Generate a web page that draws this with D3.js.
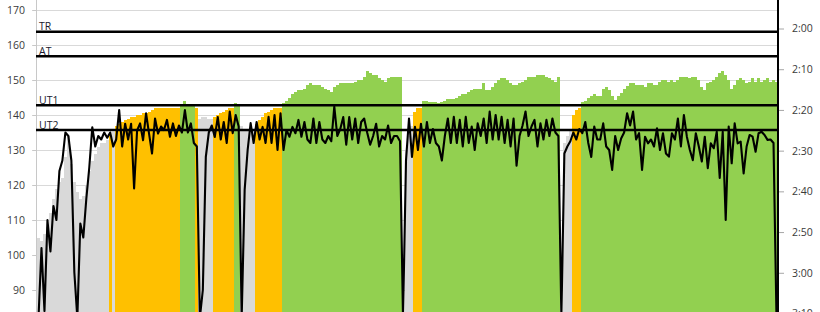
<!DOCTYPE html>
<html><head><meta charset="utf-8">
<script src="https://cdn.jsdelivr.net/npm/d3@7"></script>
<style>
html,body{margin:0;padding:0;background:#fff;overflow:hidden}
text{font-family:"Open Sans","Liberation Sans",sans-serif;}
</style></head>
<body><svg id="c" width="820" height="312"></svg>
<script>
// ---- data ----
const zoneRuns = [["rest",24],["UT2",1],["rest",1],["UT2",22],["UT1",5],["UT2",1],["rest",5],["UT2",7],["UT1",2],["rest",5],["UT2",9],["UT1",40],[null,1],["rest",3],["UT2",3],["UT1",46],[null,1],["rest",3],["UT2",3],["UT1",66]];

const areaValues = [
105,104,106,108,112,116,119,121,122,128,134,126,121,118,116,117,120,124,127,129,131,132,132,133,
134,
135,
137,137.5,138,138.5,139,139.5,139.5,140,140,140.5,140.5,141,141.5,142,142,142,142,142,142,142,142,142,
142.5,144,142.5,142.5,142.5,
142,
139,139.5,139.5,139,139,
139.5,140,140.5,141,141.5,142,142,
143.5,142.5,
137,136,135.5,135.5,136,
137.5,138.5,139.5,140.5,141,141.5,142,142,142,
143.4,144,145,146,146.5,147,147,147.5,148.5,149,148.5,148.5,148.5,148,147.5,147,146.5,148,148.5,149,149,149,149,149,149.5,150,150,151,152.5,152,151.5,151.5,150.5,150,149.5,150.5,151,151,151,151,
0,
130,134,137,
141,142,142,
144,144,143.8,143.8,143.8,143.5,143.8,144,144.5,144.5,144.5,145,145.5,146,146,146.5,147,147.5,147.5,147.5,149,147,147,148,149,150,150.5,150.5,150,149,148.6,148.6,149,149.5,150,151,151,151,151.4,151.4,151.4,151,150.5,150,149.5,151,
0,
132,134,136,
140,141.5,142,
143.8,144,145,145.5,146,145.5,145.5,147.5,148,147,145.5,144.3,145.5,146.3,147.5,148.2,149,149,148.6,148.6,148.6,148,149,149,148.6,148.6,149.5,150,150,149.5,150,149.5,150,151,151,151,150.5,151,151,150,148,147,149,149.5,150,151,152,152.5,151.5,150,147.5,148.5,150,150.5,150,149,149.5,150.5,149.5,150.5,149.5,150,150.5,149.5,150,149.5
];

const heartRate = [
82,102,84,110,101,114,110,124,127,135,
134,127,95,82,109,105,116,125,136.5,131,
134,133,135,133.5,135,131,133,141.4,131,137.5,
133,137.5,119,135.6,137.6,132.8,140.5,134.7,129,139,
134.7,136.7,135.7,138.6,133.8,137.6,134,137,135,141.4,
135,137.6,132,131,82,90,128,135,137,133.7,
139.4,133,138,132,141,134.8,140,136.7,82,118.6,
130,137.7,132,138,133,136.6,132,139.5,132,140,
130,140.5,130,135.7,133.8,136.6,134.8,138.6,133.8,138,
133,132,139,132,138,133,132,134,132.5,142.4,
134,136,139.4,131.5,139.4,133,139,132,138,139,
135,131.5,134,137.5,131,134,133,137,132,134,
134,132.5,82,127,139,128,136.6,130,137.5,131,
138,132,136,132,131,127,134,139,132,139.5,
132,138.6,131,139.5,132,136.7,130,137.6,134,139,
132,141,133,140,133,139.5,132,138.6,131,139,
125.5,134,137,141,134,136.7,138.6,131,137.6,133,
138.6,134,139,135,134,82,129,131,132.5,135,
133,136,134.8,138,132,128,136.7,133,133,137.6,
131,130,124.3,134,130,133.3,135,140.5,137,141,
133,134.8,124.3,133.8,131.9,133,131,136.2,130,134.8,
129,128.1,134.8,133,139,131,140,133.8,130,127.1,
134.8,131,126.7,133.8,124.8,131.9,130.5,135.2,122,135.2,
110,136.7,126.2,137.6,131.9,132.4,123.3,131,134.3,133.8,
129.5,134.8,135.2,134.3,132.9,133,132,82
];

const hrTicks = [90,100,110,120,130,140,150,160,170];
const paceTicks = [120,130,140,150,160,170,180,190];   // seconds per 500m
const thresholdNames = ["TR","AT","UT1","UT2"];
const thresholdValues = [163.8,156.8,142.8,135.7];
const zoneColors = {rest:"#D9D9D9", UT2:"#FFC000", UT1:"#92D050"};

// ---- drawing ----
const svg = d3.select("#c");
const left = 37, right = 778;
const n = areaValues.length;
const x = d3.scaleLinear().domain([0, n]).range([left, right]);
const y = d3.scaleLinear().domain([170, 80]).range([10, 325]);
const yPace = d3.scaleLinear().domain([120, 190]).range([28.5, 313.5]);

const zones = zoneRuns.flatMap(([z, c]) => Array(c).fill(z));

svg.append("defs").append("clipPath").attr("id","plot")
  .append("rect").attr("x", left).attr("y", 0).attr("width", right - left).attr("height", 312);

// gridlines
svg.append("g").selectAll("line").data(hrTicks).join("line")
  .attr("x1", 32).attr("x2", right).attr("y1", d => Math.round(y(d)) + 0.5).attr("y2", d => Math.round(y(d)) + 0.5)
  .attr("stroke", "#D9D9D9").attr("stroke-width", 1);

// left axis line
svg.append("line").attr("x1", 36.5).attr("x2", 36.5).attr("y1", 0).attr("y2", 312)
  .attr("stroke", "#C8C8C8").attr("stroke-width", 1);

// zone columns
const data = areaValues.map((v, i) => ({i, v, z: zones[i]}));
svg.append("g").attr("clip-path", "url(#plot)").attr("shape-rendering", "crispEdges")
  .selectAll("rect").data(data.filter(d => d.z && d.v > 0)).join("rect")
  .attr("x", d => Math.round(x(d.i)))
  .attr("width", d => Math.round(x(d.i + 1)) - Math.round(x(d.i)))
  .attr("y", d => Math.round(y(d.v)))
  .attr("height", d => 330 - Math.round(y(d.v)))
  .attr("fill", d => zoneColors[d.z]);

// threshold labels
svg.append("g").selectAll("text").data(thresholdNames).join("text")
  .attr("x", 39).attr("y", (d, i) => y(thresholdValues[i]) - 1.5)
  .attr("font-size", "10.5px").attr("fill", "#1a1a2e").text(d => d);

// threshold lines
svg.append("g").selectAll("line").data(thresholdValues).join("line")
  .attr("x1", 36).attr("x2", right).attr("y1", d => y(d)).attr("y2", d => y(d))
  .attr("stroke", "#000").attr("stroke-width", 2.4);

// heart-rate line
const line = d3.line().x((d, i) => x(i + 0.5)).y(d => y(d));
svg.append("path").datum(heartRate).attr("clip-path", "url(#plot)")
  .attr("d", line).attr("fill", "none").attr("stroke", "#000")
  .attr("stroke-width", 2.1).attr("stroke-linejoin", "round");

// right axis line
svg.append("line").attr("x1", right).attr("x2", right).attr("y1", 0).attr("y2", 312)
  .attr("stroke", "#000").attr("stroke-width", 2);

// left axis
const gl = svg.append("g").attr("transform", "translate(36.5,0)")
  .call(d3.axisLeft(y).tickValues(hrTicks).tickSize(4).tickPadding(7.5));
gl.select(".domain").remove();
gl.selectAll(".tick line").attr("stroke", "#C8C8C8");
gl.selectAll("text").attr("font-size", "10.5px").attr("fill", "#3a3a3a")
  .attr("font-family", "'Open Sans','Liberation Sans',sans-serif");

// right axis (pace)
const fmt = s => Math.floor(s / 60) + ":" + String(s % 60).padStart(2, "0");
const gr = svg.append("g").attr("transform", "translate(779,0)")
  .call(d3.axisRight(yPace).tickValues(paceTicks).tickFormat(fmt).tickSize(5).tickPadding(8));
gr.select(".domain").remove();
gr.selectAll(".tick line").attr("stroke", "#A6A6A6");
gr.selectAll("text").attr("font-size", "10.5px").attr("fill", "#3a3a3a")
  .attr("font-family", "'Open Sans','Liberation Sans',sans-serif");
</script>
</body></html>
